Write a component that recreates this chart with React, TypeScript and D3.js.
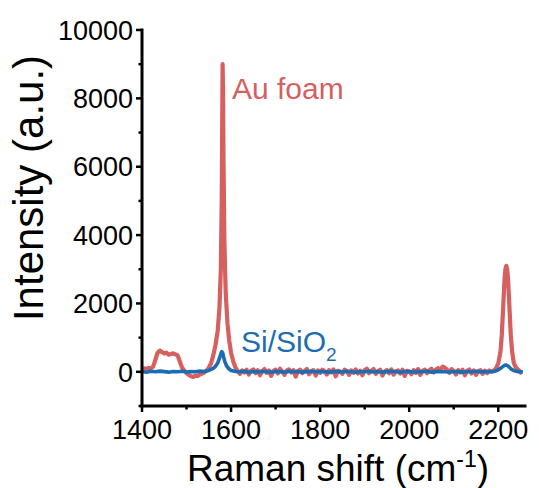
import React from "react";
import * as d3 from "d3";

const width = 539;
const height = 488;

// Raman shift (cm-1) / intensity (a.u.) pairs
const auFoam: [number, number][] = [
  [1400, 80], [1405, 100], [1410, 90], [1415, 110], [1420, 100], [1425, 150],
  [1430, 350], [1435, 560], [1440, 620], [1445, 580], [1450, 540], [1455, 560],
  [1460, 500], [1465, 520], [1470, 540], [1475, 510], [1480, 480], [1485, 300],
  [1490, 120], [1495, 40], [1500, -40], [1505, -90], [1510, -130], [1515, -150],
  [1520, -110], [1525, -120], [1530, -80], [1535, -50], [1540, -20], [1545, 40],
  [1550, 120], [1555, 250], [1560, 480], [1565, 780], [1570, 1200], [1574, 1900],
  [1577, 3000], [1579, 5000], [1580, 7000], [1581, 9000], [1582, 8200], [1583, 6200],
  [1585, 3800], [1588, 2300], [1592, 1400], [1596, 900], [1600, 550], [1605, 300],
  [1610, 120], [1615, 20],
  [1620, -60], [1625, 40], [1630, -20], [1635, 60], [1640, -80], [1645, 30],
  [1650, 70], [1655, -40], [1660, 50], [1665, -100], [1670, 20], [1675, 80],
  [1680, -30], [1685, 40], [1690, -120], [1695, 30], [1700, 60], [1705, -50],
  [1710, 90], [1715, 10], [1720, -90], [1725, 40], [1730, 70], [1735, -20],
  [1740, 50], [1745, -140], [1750, 20], [1755, 60], [1760, -40], [1765, 30],
  [1770, 80], [1775, -70], [1780, 10], [1785, 50], [1790, -110], [1795, 40],
  [1800, -30], [1805, 60], [1810, 20], [1815, -80], [1820, 50], [1825, -20],
  [1830, 70], [1835, -130], [1840, 30], [1845, 10], [1850, -60], [1855, 60],
  [1860, 20], [1865, -90], [1870, 40], [1875, -30], [1880, 70], [1885, -50],
  [1890, 30], [1895, -100], [1900, 50], [1905, 90], [1910, -40], [1915, 30],
  [1920, 80], [1925, -60], [1930, 20], [1935, 60], [1940, -110], [1945, 10],
  [1950, 50], [1955, -40], [1960, 70], [1965, -80], [1970, 20], [1975, 40],
  [1980, -50], [1985, 60], [1990, -120], [1995, 30], [2000, 10], [2005, -70],
  [2010, 50], [2015, -30], [2020, 80], [2025, -90], [2030, 30], [2035, 60],
  [2040, -40], [2045, 40], [2050, 90], [2055, -20], [2060, 70], [2065, 110],
  [2070, 60], [2075, 150], [2080, 120], [2085, 60], [2090, -30], [2095, 80],
  [2100, 20], [2105, -80], [2110, 50], [2115, -20], [2120, 60], [2125, -100],
  [2130, 30], [2135, 70], [2140, -50], [2145, 40], [2150, -90], [2155, 20],
  [2160, 50], [2165, -60], [2170, 30], [2175, -40], [2180, 40],
  [2185, 0], [2190, 40], [2195, 100], [2200, 250], [2205, 600], [2208, 1100],
  [2211, 1900], [2214, 2700], [2216, 3000], [2218, 3100], [2220, 3000], [2222, 2700],
  [2225, 1900], [2228, 1100], [2231, 600], [2235, 250], [2240, 120], [2245, 60],
  [2250, -20], [2252, 10],
];

const siSiO2: [number, number][] = [
  [1400, 10], [1410, -10], [1420, 15], [1430, 0], [1440, 20], [1450, 5],
  [1460, -10], [1470, 10], [1480, 0], [1490, 15], [1500, -5], [1510, 10],
  [1520, 0], [1530, 20], [1540, 10], [1550, 40], [1560, 100], [1565, 160],
  [1570, 260], [1574, 400], [1577, 530], [1579, 590], [1581, 560], [1583, 450],
  [1586, 300], [1590, 170], [1595, 90], [1600, 40], [1610, 10], [1620, 0],
  [1630, 15], [1640, -10], [1650, 10], [1660, -5], [1670, 15], [1680, 0],
  [1690, -10], [1700, 10], [1710, 5], [1720, -10], [1730, 15], [1740, 0],
  [1750, 10], [1760, -10], [1770, 5], [1780, 15], [1790, -5], [1800, 10],
  [1810, 0], [1820, -10], [1830, 10], [1840, 5], [1850, -5], [1860, 15],
  [1870, 0], [1880, -10], [1890, 10], [1900, 0], [1910, 15], [1920, -5],
  [1930, 10], [1940, -10], [1950, 5], [1960, 15], [1970, 0], [1980, -10],
  [1990, 10], [2000, 5], [2010, -5], [2020, 10], [2030, 0], [2040, 15],
  [2050, -10], [2060, 5], [2070, 10], [2080, 0], [2090, -5], [2100, 10],
  [2110, 5], [2120, -10], [2130, 10], [2140, 0], [2150, 15], [2160, -5],
  [2170, 10], [2180, 0], [2190, 10], [2195, 30], [2200, 60], [2205, 100],
  [2210, 150], [2214, 190], [2218, 200], [2222, 170], [2226, 120], [2230, 70],
  [2235, 35], [2240, 15], [2245, 0], [2250, 10], [2255, -5],
];

const xTicks = [1400, 1600, 1800, 2000, 2200];
const xMinorTicks = [1500, 1700, 1900, 2100];
const yTicks = [0, 2000, 4000, 6000, 8000, 10000];
const yMinorTicks = [-1000, 1000, 3000, 5000, 7000, 9000];

const red = "#d65f5f";
const blue = "#1b6db3";
const font = "'Liberation Sans', Arial, sans-serif";

const App = () => {
  const x = d3.scaleLinear().domain([1400, 2260]).range([142, 525]);
  const y = d3.scaleLinear().domain([-1000, 10000]).range([406, 30]);

  const line = d3
    .line<[number, number]>()
    .x((d) => x(d[0]))
    .y((d) => y(d[1]));

  const x0 = x.range()[0];
  const y0 = y.range()[0];

  return (
    <svg
      width={width}
      height={height}
      style={{ position: "absolute", left: 0, top: 0, background: "white" }}
      fontFamily={font}
    >
      <path d={line(auFoam) || ""} fill="none" stroke={red} strokeWidth={4.2} strokeLinejoin="round" />
      <path d={line(siSiO2) || ""} fill="none" stroke={blue} strokeWidth={3.6} strokeLinejoin="round" />

      {/* axes */}
      <line x1={x0} x2={x.range()[1]} y1={y0} y2={y0} stroke="black" strokeWidth={3} strokeLinecap="square" />
      <line x1={x0} x2={x0} y1={y0} y2={y.range()[1]} stroke="black" strokeWidth={3} strokeLinecap="square" />

      {xTicks.map((t) => (
        <g key={"xt" + t}>
          <line x1={x(t)} x2={x(t)} y1={y0} y2={y0 + 6} stroke="black" strokeWidth={2.5} />
          <text x={x(t)} y={439} textAnchor="middle" fontSize={27}>
            {t}
          </text>
        </g>
      ))}
      {xMinorTicks.map((t) => (
        <line key={"xm" + t} x1={x(t)} x2={x(t)} y1={y0} y2={y0 + 3.5} stroke="black" strokeWidth={2.5} />
      ))}

      {yTicks.map((t) => (
        <g key={"yt" + t}>
          <line x1={x0 - 6} x2={x0} y1={y(t)} y2={y(t)} stroke="black" strokeWidth={2.5} />
          <text x={133} y={y(t)} dy="0.36em" textAnchor="end" fontSize={27}>
            {t}
          </text>
        </g>
      ))}
      {yMinorTicks.map((t) => (
        <line key={"ym" + t} x1={x0 - 3.5} x2={x0} y1={y(t)} y2={y(t)} stroke="black" strokeWidth={2.5} />
      ))}

      {/* axis titles */}
      <text x={338} y={481} textAnchor="middle" fontSize={37}>
        Raman shift (cm
        <tspan fontSize={23} dy={-14}>-1</tspan>
        <tspan dy={14}>)</tspan>
      </text>
      <text transform="translate(43,188) rotate(-90)" textAnchor="middle" fontSize={42}>
        Intensity (a.u.)
      </text>

      {/* series labels */}
      <text x={232} y={99} fontSize={30} fill={red}>
        Au foam
      </text>
      <text x={241} y={352} fontSize={30} fill={blue}>
        Si/SiO
        <tspan fontSize={19} dy={9}>2</tspan>
      </text>
    </svg>
  );
};

export default App;
